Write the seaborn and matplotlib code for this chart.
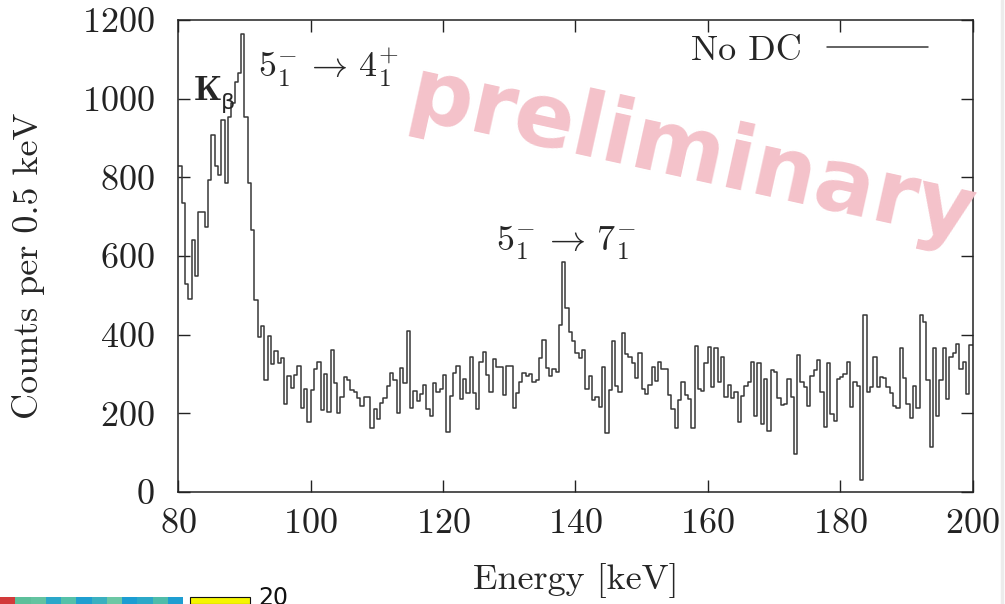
import numpy as np
import pandas as pd
import matplotlib
matplotlib.use("Agg")
import matplotlib.pyplot as plt
from matplotlib.patches import Rectangle
from matplotlib.lines import Line2D
import seaborn as sns

# Spectrum: counts per 0.5 keV bin, 80-200 keV (no Doppler correction)
counts_080_090 = [830, 735, 530, 490, 640, 550, 712, 712, 674, 793,
                  907, 828, 806, 946, 786, 954, 990, 1043, 1065, 1165]
counts_090_100 = [954, 786, 666, 488, 394, 422, 285, 397, 325, 359,
                  327, 340, 224, 295, 265, 297, 321, 213, 261, 179]
counts_100_110 = [260, 314, 331, 208, 300, 204, 361, 278, 200, 241,
                  293, 285, 260, 253, 238, 219, 242, 241, 162, 210]
counts_110_120 = [185, 227, 240, 270, 302, 285, 202, 316, 278, 409,
                  213, 257, 232, 248, 272, 210, 193, 278, 255, 263]
counts_120_130 = [297, 153, 244, 302, 321, 236, 287, 251, 342, 251,
                  210, 331, 357, 297, 255, 337, 318, 318, 247, 320]
counts_130_140 = [320, 213, 251, 280, 302, 294, 300, 280, 285, 340,
                  386, 316, 294, 314, 306, 425, 586, 467, 408, 385]
counts_140_150 = [354, 340, 361, 263, 295, 234, 241, 217, 319, 149,
                  259, 385, 269, 255, 403, 351, 342, 327, 290, 354]
counts_150_160 = [263, 249, 272, 319, 283, 331, 314, 312, 247, 212,
                  163, 234, 280, 247, 237, 163, 372, 261, 258, 329]
counts_160_170 = [368, 268, 367, 280, 342, 241, 272, 238, 253, 177,
                  244, 269, 280, 330, 194, 327, 172, 287, 156, 309]
counts_170_180 = [306, 238, 221, 225, 287, 242, 97, 348, 280, 266,
                  219, 295, 310, 336, 253, 166, 327, 198, 181, 287]
counts_180_190 = [293, 300, 331, 215, 280, 269, 31, 450, 255, 268,
                  342, 268, 292, 289, 266, 251, 219, 213, 365, 289]
counts_190_200 = [223, 189, 270, 213, 450, 433, 285, 115, 367, 193,
                  286, 367, 236, 344, 354, 376, 312, 331, 248, 374]

counts = np.concatenate([counts_080_090, counts_090_100, counts_100_110,
                         counts_110_120, counts_120_130, counts_130_140,
                         counts_140_150, counts_150_160, counts_160_170,
                         counts_170_180, counts_180_190, counts_190_200])
bin_width = 0.5
e_min, e_max = 80.0, 200.0
centers = e_min + bin_width * (np.arange(len(counts)) + 0.5)
spectrum = pd.DataFrame({"energy": centers, "counts": counts})

x_ticks = [80, 100, 120, 140, 160, 180, 200]
y_ticks = [0, 200, 400, 600, 800, 1000, 1200]

sns.set_theme(style="ticks")
plt.rcParams.update({
    "font.family": ["cmr10", "DejaVu Serif"],
    "mathtext.fontset": "cm",
    "axes.formatter.use_mathtext": True,
    "font.size": 25,
    "axes.linewidth": 1.1,
    "axes.edgecolor": "#222222",
    "xtick.color": "#222222",
    "ytick.color": "#222222",
})

fig = plt.figure(figsize=(10.05, 6.04), dpi=100)
ax = fig.add_axes([0.1774, 0.1854, 0.7903, 0.7815])

sns.histplot(data=spectrum, x="energy", weights="counts",
             binwidth=bin_width, binrange=(e_min, e_max), element="step",
             fill=False, color="#383838", linewidth=1.1, label="No DC", ax=ax)

ax.set_xlim(e_min, e_max)
ax.set_ylim(0, 1200)
ax.set_xticks(x_ticks)
ax.set_yticks(y_ticks)
ax.tick_params(direction="in", length=8.5, width=1.0, top=True, right=True,
               labelsize=26)
ax.tick_params(axis="x", pad=12)
ax.tick_params(axis="y", pad=17)
ax.set_xlabel("Energy [keV]", fontsize=26, labelpad=16)
ax.set_ylabel("Counts per 0.5 keV", fontsize=26)
ax.yaxis.set_label_coords(-0.168, 0.48)

ax.legend(loc="center right", bbox_to_anchor=(0.9437, 0.935), frameon=False,
          markerfirst=False, handlelength=2.8, handletextpad=0.7,
          borderpad=0, borderaxespad=0, fontsize=26)

# Peak labels
ax.text(82.2, 1018, r"$\mathbf{K}$", fontsize=26, ha="left", va="center")
ax.text(87.5, 990, "β", fontsize=16, family="DejaVu Sans",
        ha="center", va="center")
ax.text(92.1, 1078, r"$5_1^{-}\,\rightarrow\,4_1^{+}$", fontsize=26,
        ha="left", va="center")
ax.text(128.0, 633, r"$5_1^{-}\,\rightarrow\,7_1^{-}$", fontsize=26,
        ha="left", va="center")

fig.text(0.688, 0.742, "preliminary", fontsize=64, fontweight="bold",
         family="DejaVu Sans", color="#f4c2ca", rotation=-12.5,
         ha="center", va="center", zorder=0)

# Edge of a neighbouring colour scale along the bottom border
strip_colors = ["#d23a3a", "#5cbf9a", "#63c3a0", "#2aa7c9", "#55c1a8",
                "#1f9fd0", "#3ab0c0", "#6cc7a4", "#1c9dd2", "#2ba8c8",
                "#4fbca9", "#1e9ed1"]
strip_w = 183 / len(strip_colors)
for i, c in enumerate(strip_colors):
    fig.patches.append(Rectangle((i * strip_w / 1005, 0), strip_w / 1005,
                                 7 / 604, transform=fig.transFigure,
                                 facecolor=c, edgecolor="none"))
fig.patches.append(Rectangle((190 / 1005, 0), 60 / 1005, 7 / 604,
                             transform=fig.transFigure, facecolor="#f5f500",
                             edgecolor="#111111", linewidth=0.8))
fig.text(258 / 1005, -6 / 604, "20", fontsize=17, family="DejaVu Sans",
         ha="left", va="bottom", color="#111111")

# Faint border of the neighbouring panel on the right
fig.lines.append(Line2D([1001.5 / 1005, 1001.5 / 1005], [0.0, 1.0],
                        transform=fig.transFigure, color="#ececec",
                        linewidth=2.5))

fig.savefig("out.png", dpi=100)
